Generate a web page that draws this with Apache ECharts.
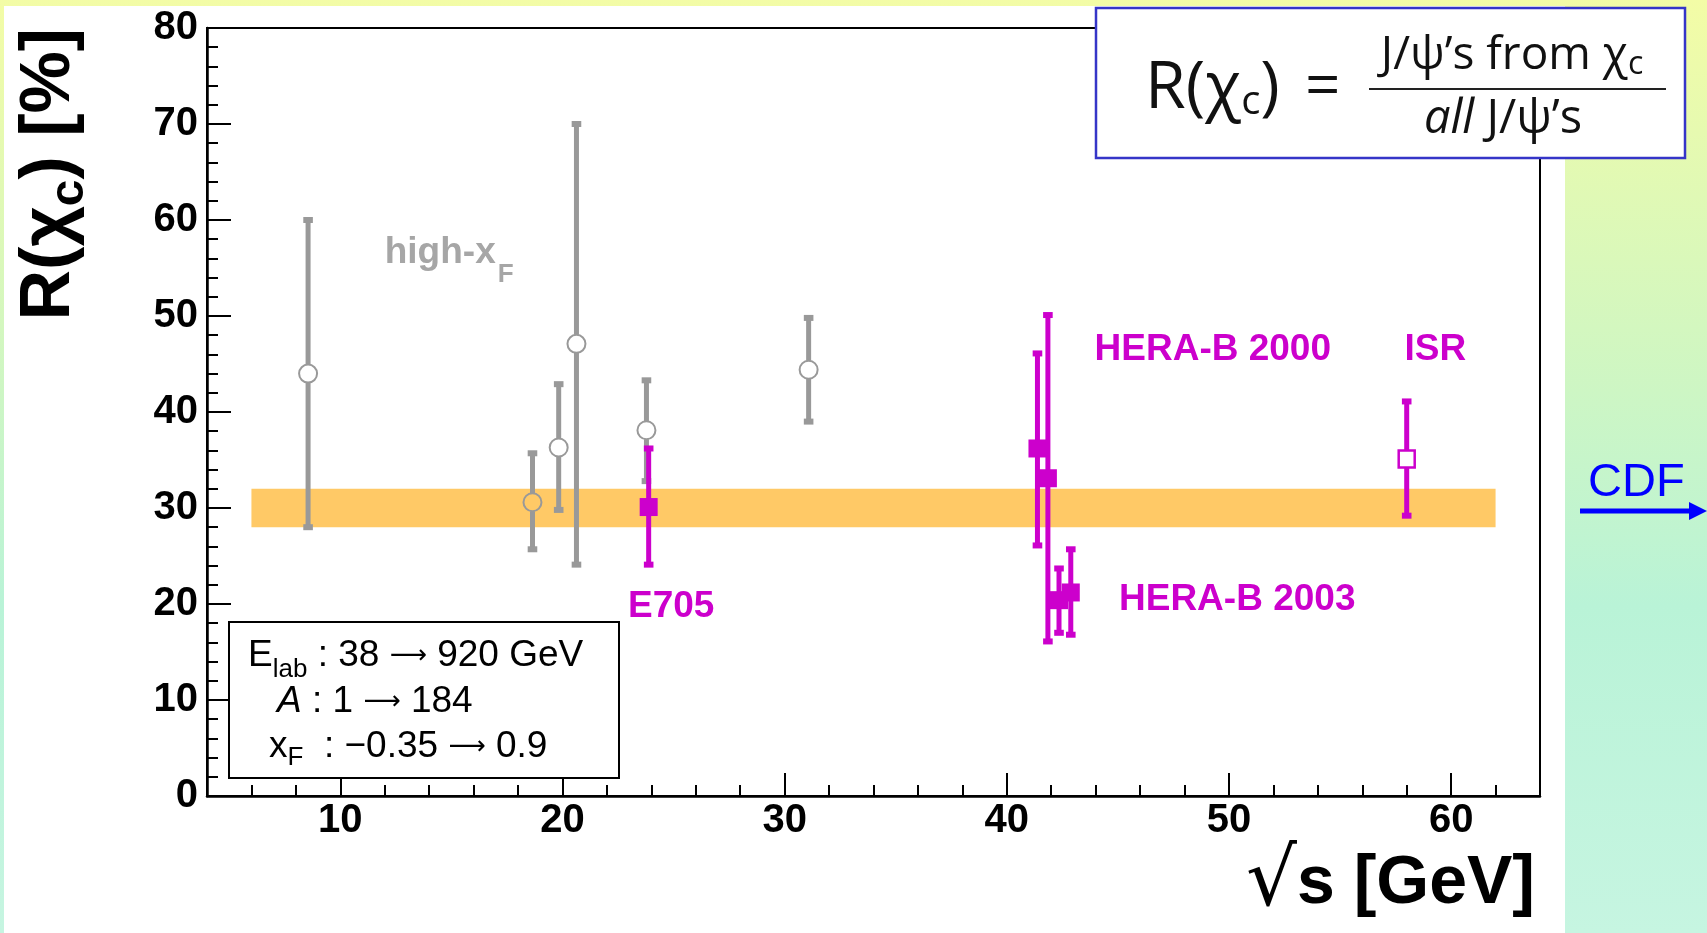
<!DOCTYPE html>
<html><head><meta charset="utf-8">
<script src="https://cdn.jsdelivr.net/npm/echarts@6/dist/echarts.min.js"></script>
<style>html,body{margin:0;padding:0;width:1707px;height:933px;overflow:hidden;background:#fff}#c{width:1707px;height:933px}</style>
</head><body><div id="c"></div>
<script>
// ---------------- DATA ----------------
const xTickLabels = [10, 20, 30, 40, 50, 60];
const xMinorTicks = [4, 6, 8, 12, 14, 16, 18, 22, 24, 26, 28, 32, 34, 36, 38, 42, 44, 46, 48, 52, 54, 56, 58, 62, 64];
const yTickLabels = [0, 10, 20, 30, 40, 50, 60, 70, 80];

// high-xF measurements (grey open circles)
const highXfX  = [8.55, 18.65, 19.83, 20.63, 23.78, 31.08];
const highXfY  = [44.0, 30.6, 36.3, 47.1, 38.1, 44.4];
const highXfLo = [28.0, 25.7, 29.8, 24.1, 32.8, 39.0];
const highXfHi = [60.0, 35.7, 42.9, 70.0, 43.3, 49.8];

// E705 (filled square)
const e705X = [23.88], e705Y = [30.1], e705Lo = [24.1], e705Hi = [36.2];
// HERA-B 2000 (filled squares)
const hb2000X = [41.38, 41.85], hb2000Y = [36.2, 33.1], hb2000Lo = [26.1, 16.1], hb2000Hi = [46.1, 50.1];
// HERA-B 2003 (filled squares)
const hb2003X = [42.35, 42.88], hb2003Y = [20.4, 21.2], hb2003Lo = [17.0, 16.8], hb2003Hi = [23.7, 25.7];
// ISR (open square)
const isrX = [58.0], isrY = [35.1], isrLo = [29.2], isrHi = [41.1];

// average band: x range and y range
const bandX = [6, 62];
const bandY = [28, 32];

// in-plot annotations (text anchored in data coordinates)
const greyLabelMain = ['high-x'], greyLabelSub = ['F'], greyLabelX = [12.0], greyLabelY = [56.6];
const magLabelText = ['E705', 'HERA-B 2000', 'HERA-B 2003', 'ISR'];
const magLabelX = [22.95, 43.95, 45.05, 57.9];
const magLabelY = [19.7, 46.5, 20.4, 46.5];

// ---------------- STYLE ----------------
const GREY = '#999999', MAGENTA = '#cc00cc', BAND = '#ffc966';
const SANS = '"Liberation Sans", Arial, Helvetica, sans-serif';
const FORM = '"Open Sans", "Noto Sans", sans-serif';
const ARW = '"DejaVu Sans", sans-serif';

function errorBars(name, X, Y, LO, HI, color, marker, z) {
  return {
    type: 'custom', name, z, silent: true, clip: false,
    data: X.map((x, i) => [x, Y[i], LO[i], HI[i]]),
    encode: { x: 0, y: [1, 2, 3] },
    renderItem: (params, api) => {
      const c = api.coord([api.value(0), api.value(1)]);
      const lo = api.coord([api.value(0), api.value(2)]);
      const hi = api.coord([api.value(0), api.value(3)]);
      const half = 9;
      const hollow = marker !== 'square';
      const ch = [];
      const seg = (y1, y2) => ch.push({ type: 'line', shape: { x1: c[0], y1, x2: c[0], y2 }, style: { stroke: color, lineWidth: 5 } });
      if (hollow) { seg(hi[1], c[1] - half); seg(c[1] + half, lo[1]); } else { seg(hi[1], lo[1]); }
      [hi[1], lo[1]].forEach(yy => ch.push({ type: 'rect', shape: { x: c[0] - 4.8, y: yy - 3, width: 9.6, height: 6 }, style: { fill: color } }));
      if (marker === 'circle') {
        ch.push({ type: 'circle', shape: { cx: c[0], cy: c[1], r: 9 }, style: { fill: 'none', stroke: color, lineWidth: 2 } });
      } else if (marker === 'square') {
        ch.push({ type: 'rect', shape: { x: c[0] - 9, y: c[1] - 9, width: 18, height: 18 }, style: { fill: color } });
      } else {
        ch.push({ type: 'rect', shape: { x: c[0] - 8, y: c[1] - 8.5, width: 16, height: 17 }, style: { fill: '#fff', stroke: color, lineWidth: 2.5 } });
      }
      return { type: 'group', children: ch };
    }
  };
}

const chart = echarts.init(document.getElementById('c'), null, { renderer: 'canvas' });

const boxRich = {
  m: { fontSize: 37, fontFamily: SANS, fill: '#000' },
  i: { fontSize: 37, fontStyle: 'italic', fontFamily: SANS, fill: '#000' },
  a: { fontSize: 26, fontFamily: ARW, fill: '#000' }
};

const option = {
  animation: false,
  grid: { left: 207, right: 167, top: 28, bottom: 137, show: true, borderColor: '#000', borderWidth: 2, backgroundColor: 'transparent' },
  xAxis: [
    {
      type: 'value', min: 4, max: 64, position: 'bottom',
      axisLine: { show: true, onZero: false, lineStyle: { color: '#000', width: 2.5 } },
      axisTick: { show: true, inside: true, length: 23, customValues: xTickLabels, lineStyle: { color: '#000', width: 2 } },
      axisLabel: { show: true, customValues: xTickLabels, margin: 5, fontSize: 40, fontWeight: 'bold', fontFamily: SANS, color: '#000' },
      splitLine: { show: false }
    },
    {
      type: 'value', min: 4, max: 64, position: 'bottom',
      axisLine: { show: false },
      axisTick: { show: true, inside: true, length: 11, customValues: xMinorTicks, lineStyle: { color: '#000', width: 2 } },
      axisLabel: { show: false },
      splitLine: { show: false }
    }
  ],
  yAxis: {
    type: 'value', min: 0, max: 80, interval: 10,
    axisLine: { show: true, onZero: false, lineStyle: { color: '#000', width: 2.5 } },
    axisTick: { show: true, inside: true, length: 24, lineStyle: { color: '#000', width: 2 } },
    minorTick: { show: true, splitNumber: 5, length: 11, lineStyle: { color: '#000', width: 2 } },
    axisLabel: { show: true, customValues: yTickLabels, margin: 9, fontSize: 40, fontWeight: 'bold', fontFamily: SANS, color: '#000' },
    splitLine: { show: false }, minorSplitLine: { show: false }
  },
  series: [
    {
      type: 'custom', name: 'band', z: 1, silent: true,
      data: [[bandX[0], bandY[0], bandX[1], bandY[1]]],
      encode: { x: [0, 2], y: [1, 3] },
      renderItem: (params, api) => {
        const p0 = api.coord([api.value(0), api.value(3)]);
        const p1 = api.coord([api.value(2), api.value(1)]);
        return { type: 'rect', shape: { x: p0[0], y: p0[1], width: p1[0] - p0[0], height: p1[1] - p0[1] }, style: { fill: BAND } };
      }
    },
    errorBars('high-xF', highXfX, highXfY, highXfLo, highXfHi, GREY, 'circle', 3),
    errorBars('E705', e705X, e705Y, e705Lo, e705Hi, MAGENTA, 'square', 4),
    errorBars('HERA-B 2000', hb2000X, hb2000Y, hb2000Lo, hb2000Hi, MAGENTA, 'square', 4),
    errorBars('HERA-B 2003', hb2003X, hb2003Y, hb2003Lo, hb2003Hi, MAGENTA, 'square', 4),
    errorBars('ISR', isrX, isrY, isrLo, isrHi, MAGENTA, 'open', 4),
    {
      type: 'custom', name: 'greyLabels', z: 5, silent: true, clip: false,
      data: greyLabelX.map((x, i) => [x, greyLabelY[i], i]),
      renderItem: (params, api) => {
        const i = api.value(2);
        const p = api.coord([api.value(0), api.value(1)]);
        return { type: 'text', x: p[0], y: p[1], style: {
          text: '{m|' + greyLabelMain[i] + '}{s|' + greyLabelSub[i] + '}', align: 'left', verticalAlign: 'middle',
          rich: {
            m: { fontSize: 37, fontWeight: 'bold', fontFamily: SANS, fill: '#a6a6a6' },
            s: { fontSize: 26, fontWeight: 'bold', fontFamily: SANS, fill: '#a6a6a6', padding: [44, 0, 0, 2] }
          } } };
      }
    },
    {
      type: 'custom', name: 'magentaLabels', z: 5, silent: true, clip: false,
      data: magLabelX.map((x, i) => [x, magLabelY[i], i]),
      renderItem: (params, api) => {
        const i = api.value(2);
        const p = api.coord([api.value(0), api.value(1)]);
        return { type: 'text', x: p[0], y: p[1], style: {
          text: magLabelText[i], align: 'left', verticalAlign: 'middle',
          fontSize: 37, fontWeight: 'bold', fontFamily: SANS, fill: MAGENTA } };
      }
    }
  ],
  graphic: [
    // page background
    { type: 'rect', z: -100, silent: true, shape: { x: 0, y: 0, width: 1707, height: 933 },
      style: { fill: { type: 'linear', x: 0, y: 0, x2: 0, y2: 1, colorStops: [
        { offset: 0, color: '#f3fca6' }, { offset: 0.42, color: '#cdf6c4' }, { offset: 0.65, color: '#b9f3d7' }, { offset: 1, color: '#c6f5e1' } ] } } },
    { type: 'rect', z: -99, silent: true, shape: { x: 4, y: 6, width: 1561, height: 927 }, style: { fill: '#ffffff' } },
    // y axis title
    { type: 'text', z: 10, silent: true, x: 50, y: 28, rotation: Math.PI / 2,
      style: { text: '{m|R(χ}{s|c}{m|) [%]}', align: 'right', verticalAlign: 'middle',
        rich: {
          m: { fontSize: 70, fontWeight: 'bold', fontFamily: SANS, fill: '#000' },
          s: { fontSize: 48, fontWeight: 'bold', fontFamily: SANS, fill: '#000', padding: [40, 0, 0, 0] }
        } } },
    // x axis title
    { type: 'text', z: 10, silent: true, x: 1535, y: 884,
      style: { text: '{r|√}{m|s [GeV]}', align: 'right', verticalAlign: 'middle',
        rich: {
          r: { fontSize: 80, fontWeight: 'normal', fontFamily: ARW, fill: '#000' },
          m: { fontSize: 68, fontWeight: 'bold', fontFamily: SANS, fill: '#000' }
        } } },
    // info box bottom-left
    { type: 'rect', z: 20, silent: true, shape: { x: 229, y: 622, width: 390, height: 156 }, style: { fill: '#fff', stroke: '#000', lineWidth: 2 } },
    { type: 'text', z: 21, silent: true, x: 248, y: 656,
      style: { text: '{m|E}{s|lab}{m| : 38 }{a|⟶}{m| 920 GeV}', align: 'left', verticalAlign: 'middle',
        rich: Object.assign({ s: { fontSize: 26, fontFamily: SANS, fill: '#000', padding: [28, 0, 0, 0] } }, boxRich) } },
    { type: 'text', z: 21, silent: true, x: 277, y: 702,
      style: { text: '{i|A}{m| : 1 }{a|⟶}{m| 184}', align: 'left', verticalAlign: 'middle', rich: boxRich } },
    { type: 'text', z: 21, silent: true, x: 269, y: 747,
      style: { text: '{m|x}{s|F}{m|  : −0.35 }{a|⟶}{m| 0.9}', align: 'left', verticalAlign: 'middle',
        rich: Object.assign({ s: { fontSize: 26, fontFamily: SANS, fill: '#000', padding: [22, 0, 0, 0] } }, boxRich) } },
    // formula box
    { type: 'rect', z: 20, silent: true, shape: { x: 1096, y: 8, width: 589, height: 150 }, style: { fill: '#fff', stroke: '#3535c8', lineWidth: 2.5 } },
    { type: 'text', z: 21, silent: true, x: 1145, y: 89,
      style: { text: '{m|R(χ}{s|c}{m|)}', align: 'left', verticalAlign: 'middle',
        rich: { m: { fontSize: 66, fontFamily: FORM, fill: '#111' }, s: { fontSize: 40, fontFamily: FORM, fill: '#111', padding: [28, 0, 0, 0] } } } },
    { type: 'text', z: 21, silent: true, x: 1305, y: 89,
      style: { text: '=', align: 'left', verticalAlign: 'middle', fontSize: 62, fontFamily: FORM, fill: '#111' } },
    { type: 'text', z: 21, silent: true, x: 1512, y: 56,
      style: { text: '{m|J/ψ’s from χ}{s|c}', align: 'center', verticalAlign: 'middle',
        rich: { m: { fontSize: 46, fontFamily: FORM, fill: '#111' }, s: { fontSize: 32, fontFamily: FORM, fill: '#111', padding: [18, 0, 0, 0] } } } },
    { type: 'line', z: 21, silent: true, shape: { x1: 1369, y1: 89, x2: 1666, y2: 89 }, style: { stroke: '#222', lineWidth: 2 } },
    { type: 'text', z: 21, silent: true, x: 1503, y: 120,
      style: { text: '{i|all}{m| J/ψ’s}', align: 'center', verticalAlign: 'middle',
        rich: { m: { fontSize: 47, fontFamily: FORM, fill: '#111' }, i: { fontSize: 47, fontStyle: 'italic', fontFamily: FORM, fill: '#111' } } } },
    // CDF arrow
    { type: 'text', z: 21, silent: true, x: 1588, y: 483,
      style: { text: 'CDF', align: 'left', verticalAlign: 'middle', fontSize: 47, fontFamily: SANS, fill: '#0000ff' } },
    { type: 'line', z: 21, silent: true, shape: { x1: 1580, y1: 511, x2: 1694, y2: 511 }, style: { stroke: '#0000ff', lineWidth: 5 } },
    { type: 'polygon', z: 21, silent: true, shape: { points: [[1689, 502], [1707, 511], [1689, 520]] }, style: { fill: '#0000ff' } }
  ]
};
chart.setOption(option);
</script>
</body></html>
